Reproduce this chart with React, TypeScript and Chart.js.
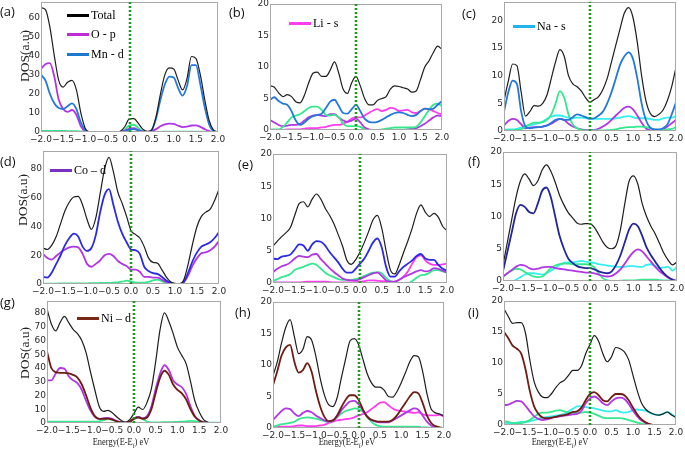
import React, { useEffect, useRef } from 'react';
import { Chart, registerables } from 'chart.js';

Chart.register(...registerables);

// ---------- DATA ----------
const ENERGY = [
  -2.0, -1.9, -1.8, -1.7, -1.6, -1.5, -1.4, -1.3, -1.2, -1.1,
  -1.0, -0.9, -0.8, -0.7, -0.6, -0.5, -0.4, -0.3, -0.2, -0.1,
  0.0, 0.1, 0.2, 0.3, 0.4, 0.5, 0.6, 0.7, 0.8, 0.9,
  1.0, 1.1, 1.2, 1.3, 1.4, 1.5, 1.6, 1.7, 1.8, 1.9, 2.0,
];
const X_TICKS = [-2.0, -1.5, -1.0, -0.5, 0.0, 0.5, 1.0, 1.5, 2.0];
const FERMI_LEVEL = 0.0;

// (a)
const aTotal = [65, 64, 55, 40, 27, 23.5, 26, 27, 22, 10, 2, 0, 0, 0, 0, 0, 0, 0, 0.5, 3, 7, 7, 4.5, 1.5, 0.3, 1, 8, 20, 30, 33.5, 33, 27, 22, 28, 39.5, 38.5, 30, 17, 6, 1, 0];
const aOp = [33, 35.5, 36, 29, 17, 12, 10.5, 11.5, 9, 3, 0.5, 0, 0, 0, 0, 0, 0, 0, 0.1, 0.8, 1.8, 2, 1, 0.3, 0.1, 0.5, 1.5, 3, 4, 4.4, 4.2, 3.3, 2.6, 2.8, 3.4, 3.5, 2.7, 1.5, 0.5, 0.1, 0];
const aMn = [30, 27, 20, 15, 12.5, 12, 13.5, 15, 12, 5, 1, 0, 0, 0, 0, 0, 0, 0, 0, 0.5, 1.3, 1.5, 0.8, 0.2, 0, 1, 7, 17, 25, 29, 28.5, 23, 19, 24, 35, 35, 25, 13, 4, 0.5, 0];
const aOther = [0.6, 0.6, 0.6, 0.6, 0.6, 0.6, 0.5, 0.5, 0.4, 0.3, 0.2, 0, 0, 0, 0, 0, 0, 0, 0.1, 1.5, 3.5, 3.8, 2, 0.5, 0, 0, 0.1, 0.1, 0.2, 0.2, 0.2, 0.2, 0.2, 0.2, 0.2, 0.2, 0.2, 0.1, 0.1, 0, 0];

// (b)
const bTotal = [7, 6.8, 5.9, 5.3, 5.6, 5.3, 4.5, 4.3, 5.5, 7.5, 9, 9.2, 8.5, 8.5, 9.5, 10.8, 9, 6.5, 5.8, 7.5, 8.5, 7, 5, 4, 4, 4.7, 5, 5.3, 6.5, 7, 6.9, 6.7, 6.5, 6, 6.2, 8, 10, 11, 12.3, 13.3, 12.8];
const bMn = [4.8, 5.2, 4.6, 4.2, 4, 3, 1.5, 0.8, 1.2, 1.8, 2.2, 2.4, 2.6, 3.5, 4.5, 4.8, 3.8, 2.7, 2.6, 3.3, 4, 3, 1.8, 1.3, 1.2, 1.3, 1.6, 2, 2.4, 2.7, 2.8, 2.7, 2.4, 2.2, 2.4, 3, 3.4, 3.3, 3.4, 4, 4.6];
const bOther = [0.1, 0.1, 0.1, 0.5, 1.2, 2, 2.3, 2.5, 3, 3.5, 3.7, 3.7, 3.2, 2.4, 2.3, 2.4, 2, 1, 0.6, 0.6, 0.6, 0.5, 0.1, 0, 0, 0, 0.1, 0.2, 0.3, 0.4, 0.4, 0.4, 0.4, 0.4, 0.5, 1.2, 2.2, 3.2, 4, 4.2, 3.7];
const bOp = [1.6, 1.2, 0.8, 0.6, 0.7, 0.8, 0.8, 1, 1.5, 2, 2.3, 2.4, 2.3, 2.2, 2.5, 2.5, 2, 1.5, 1.3, 1.5, 1.8, 1.2, 0.4, 0.1, 0, 0, 0, 0, 0, 0, 0, 0, 0.1, 0.2, 0.3, 0.6, 1, 1.5, 2, 2.3, 2.2];
const bLi = [0, 0, 0, 0, 0.1, 0.1, 0.1, 0.1, 0.2, 0.3, 0.3, 0.3, 0.4, 0.5, 0.7, 0.8, 0.8, 1, 1.3, 1.8, 2, 2, 2.3, 2.7, 3.1, 3.3, 3, 3.2, 3.5, 3.4, 3, 3.1, 3.2, 2.8, 2.7, 3, 3.4, 3.3, 3, 2.7, 2.5];

// (c)
const cTotal = [5.5, 9, 12.1, 11.8, 7, 2.7, 3.5, 4.6, 4.5, 5, 6.5, 9.5, 12.5, 14.7, 13.5, 10, 8.5, 8, 7.2, 6, 5.2, 5.7, 6.2, 7.5, 9.5, 12.5, 15.5, 18.5, 21.3, 22.3, 20.5, 16, 10, 5.5, 3.2, 2.6, 3, 3.8, 5.5, 8, 11.5];
const cMn = [3.5, 7, 9.1, 8.5, 3.5, 0.8, 0.5, 0.6, 0.7, 0.8, 1, 1.5, 2, 2.2, 2, 2, 2.5, 3, 2.8, 2.5, 2.2, 2.3, 2.8, 3.5, 5, 7, 9.5, 12, 13.5, 14.2, 13, 9.5, 5, 2, 0.6, 0.3, 0.3, 0.5, 1.2, 3, 5.2];
const cOther = [0.1, 0.1, 0.1, 0.2, 0.3, 0.8, 1.2, 1.5, 1.5, 1.6, 2, 3, 5, 7.2, 6, 3, 1.2, 0.5, 0.2, 0.1, 0.1, 0.1, 0.1, 0.1, 0.15, 0.2, 0.3, 0.5, 0.6, 0.7, 0.7, 0.8, 0.8, 0.7, 0.5, 0.3, 0.2, 0.2, 0.3, 0.4, 0.7];
const cOp = [1, 1.8, 2.2, 2, 1.2, 0.5, 0.6, 0.7, 0.7, 0.8, 1, 1.3, 1.8, 2.2, 2, 1.3, 0.8, 0.5, 0.3, 0.2, 0.2, 0.2, 0.4, 0.8, 1.3, 2, 2.8, 3.5, 4.2, 4.4, 3.9, 2.8, 1.5, 0.5, 0.1, 0, 0.1, 0.3, 0.8, 1.4, 2];
const cNa = [0.2, 0.3, 0.3, 0.4, 0.6, 0.9, 1, 1.2, 1.4, 1.7, 2.2, 2.6, 2.8, 2.8, 2.6, 2.4, 2.3, 2.4, 2.4, 2.3, 2.3, 2.2, 2.2, 2.2, 2.2, 2.2, 2.3, 2.4, 2.6, 2.7, 2.5, 2.3, 2.3, 2.3, 2.2, 2, 2, 2.3, 2.4, 2.4, 2.7];

// (d)
const dTotal = [25, 24, 27, 33, 42, 51, 57, 60.5, 61, 55, 45, 38, 46, 63, 80, 88, 78, 64, 56, 47, 37, 34.5, 32, 26, 18, 15, 14.5, 10, 5, 1.5, 0.5, 0, 3, 14, 28, 40, 47, 50, 52, 58, 66];
const dCo = [5, 4.5, 8, 14, 20, 27, 32, 35, 33, 26, 23, 25, 34, 50, 62, 66, 55, 43.5, 35, 29, 24, 23.5, 21, 12, 9, 7.5, 7, 5, 2.5, 0.8, 0, 0, 1.5, 8, 16, 22, 26, 27.5, 29, 32, 36];
const dOp = [21, 18, 17, 19.5, 22, 24, 25.5, 26, 25.5, 21, 14, 12, 14, 16.5, 20, 21, 19.5, 16, 14, 12.5, 10, 10, 8.5, 5, 5, 4.5, 4.5, 3, 1.5, 0.5, 0, 0, 1.2, 6, 13, 18, 21.5, 22, 23.5, 26, 30];
const dOther = [0.3, 0.3, 0.3, 0.3, 0.4, 0.4, 0.5, 0.5, 0.5, 0.5, 0.5, 0.6, 0.6, 0.7, 0.8, 0.8, 1, 1.2, 1.6, 2.3, 1.8, 1, 1, 1, 1.5, 2.5, 3, 2, 0.8, 0.3, 0.1, 0, 0, 0, 0, 0, 0, 0, 0, 0, 0];

// (e)
const eTotal = [5.7, 6.5, 7.2, 7.8, 8.6, 10.5, 12.3, 12.6, 11.8, 13, 13.8, 13, 11.6, 10.5, 9.2, 7.5, 5.7, 3.5, 2.9, 3.6, 4.8, 6.3, 8, 9.8, 10.5, 8.5, 5, 2, 1.4, 2.8, 4.7, 6.5, 8.5, 10.8, 12.1, 11, 10.3, 10.8, 10.2, 8.8, 8.1];
const eCo = [3.8, 3.7, 4.1, 4.2, 4.4, 5.2, 6, 5.8, 5, 6, 6.5, 6.4, 5.8, 4.8, 4, 3.2, 2.2, 1.6, 1.6, 2.2, 3, 3.8, 5, 6.3, 6.9, 5.5, 2.5, 1, 1, 1.8, 2.5, 3, 3.5, 4.2, 4.5, 3.8, 3.6, 3.6, 2.8, 2.2, 1.9];
const eOp = [1.7, 2.2, 2.6, 2.8, 3.2, 3.8, 4.2, 4.1, 4, 4.4, 4.5, 3.7, 3, 2.3, 1.7, 1.2, 0.7, 0.5, 0.4, 0.4, 0.6, 0.9, 1.2, 1.5, 1.6, 1.1, 0.4, 0.2, 0.2, 0.5, 0.9, 1.2, 1.5, 1.8, 2, 1.8, 1.9, 2.3, 2.2, 1.9, 1.6];
const eOther = [0.3, 0.6, 0.9, 1.1, 1.4, 2, 2.3, 2.5, 2.8, 3, 2.8, 2.2, 1.6, 1.2, 0.9, 0.6, 0.5, 0.5, 0.5, 0.6, 0.8, 1.1, 1.4, 1.6, 1.7, 1.5, 0.8, 0.3, 0.1, 0, 0, 0, 0.3, 0.8, 1.2, 1.3, 1.6, 2, 2, 1.8, 1.6];
const eLi = [0.1, 0.1, 0.1, 0.1, 0.1, 0.1, 0.1, 0.15, 0.2, 0.2, 0.2, 0.2, 0.2, 0.15, 0.1, 0.1, 0.1, 0.1, 0.1, 0.15, 0.2, 0.3, 0.4, 0.4, 0.35, 0.3, 0.2, 0.1, 0.2, 0.5, 1, 1.8, 3, 4, 4.3, 3.5, 3, 2.8, 2.8, 2.9, 3];

// (f)
const fTotal = [2.5, 6, 9.5, 13, 15.5, 16.6, 15.8, 14.8, 15.5, 17.2, 18, 17, 15.3, 13.3, 11.8, 10.6, 9.8, 9, 8.8, 8.9, 8.9, 8.3, 7.2, 6, 5.2, 5, 5.5, 8, 12, 15.5, 16.3, 15, 12, 10, 8.5, 7.3, 5.8, 4.3, 3.2, 2.5, 3];
const fCo = [1.5, 4.5, 7.5, 10.5, 11.8, 11.5, 10.7, 10.5, 12, 14, 14.5, 13, 10, 7, 5, 3.5, 2.8, 2.3, 2.1, 2, 2, 1.8, 1.5, 1.3, 1.2, 1.5, 2.5, 4, 6, 8, 8.9, 8.5, 7, 5.2, 4, 3, 2, 1.2, 0.6, 0.2, 0];
const fOp = [0.7, 1.2, 1.7, 2.2, 2.5, 2.4, 2, 1.8, 1.9, 2.1, 2.2, 2.2, 2, 1.9, 1.8, 1.7, 1.6, 1.5, 1.4, 1.3, 1.3, 1.2, 1, 0.8, 0.7, 0.8, 1.2, 1.8, 2.7, 3.7, 4.5, 4.9, 4.6, 3.8, 3, 2.2, 1.5, 1, 0.5, 0.2, 0];
const fOther = [0.6, 1.2, 1.6, 1.9, 1.8, 1.4, 1, 0.7, 0.6, 0.7, 1.3, 2, 2.4, 2.6, 2.7, 2.7, 2.6, 2.6, 2.6, 2.6, 2.5, 2.1, 1.2, 0.4, 0.1, 0, 0, 0.05, 0.1, 0.1, 0.1, 0.15, 0.2, 0.2, 0.2, 0.2, 0.15, 0.1, 0.1, 0.05, 0];
const fNa = [0, 0, 0, 0.2, 0.6, 1, 1.2, 1.2, 1.1, 1, 1.2, 1.6, 2, 2.5, 2.8, 2.9, 2.9, 3, 3.1, 3, 2.9, 2.8, 2.6, 2.5, 2.4, 2.3, 2.2, 2.2, 2.2, 2.3, 2.3, 2.2, 2.2, 2.5, 2.6, 2.3, 2, 2.1, 2.2, 1.6, 2.3];

// (g)
const gTotal = [83, 72, 67, 73, 77.5, 73, 68, 65, 60, 51, 37, 24, 12, 8.5, 9.2, 7.5, 4.5, 2, 0.5, 2.5, 7, 11.5, 9.8, 15, 25, 45, 68, 80, 74, 65, 55, 49, 43, 30, 16, 8, 2.5, 0.5, 0, 0, 0];
const gNi = [52, 40, 37, 36.5, 36.5, 36, 35, 33, 28, 20, 11, 5, 3, 3, 3.2, 2.5, 1.2, 0.5, 0.2, 1, 3, 4, 3, 4, 10, 22, 33, 38, 35, 28, 24, 21.5, 17, 10, 4.5, 1.8, 0.5, 0, 0, 0, 0];
const gOp = [31, 31, 36, 40, 39.5, 34, 31, 29, 24, 16, 9, 4.5, 3, 3.5, 3.7, 3, 1.5, 0.5, 0.2, 1, 3.5, 4.5, 3.5, 5, 12, 25, 36, 42, 38.5, 31, 28, 26, 21, 12, 5, 2, 0.6, 0, 0, 0, 0];
const gOther = [1, 1, 1, 1, 1, 1, 1, 1, 1, 1, 1, 1, 1.2, 2, 3, 2.2, 1, 0.5, 0.3, 0.5, 3, 4.5, 3, 1, 0.5, 0.5, 0.5, 0.6, 0.6, 0.7, 0.8, 1, 1.2, 1.5, 1.3, 0.7, 0.4, 0.3, 0.2, 0.2, 0.2];

// (h)
const hTotal = [8.3, 10.5, 13.5, 16, 17.2, 14.5, 11.8, 12.5, 14.5, 14, 11.5, 8, 5.3, 3.7, 3.4, 4.8, 8, 11, 13.8, 14.2, 13.3, 11, 8.7, 7.2, 6.5, 6.5, 6, 5, 4.9, 5.8, 7.2, 8.8, 10.5, 11.5, 11.3, 9, 5.5, 3, 2.4, 2.2, 1.9];
const hNi = [6.8, 9, 11.5, 12.8, 13.2, 10.5, 8.8, 9.2, 10.3, 9, 6, 3.5, 1.8, 1.1, 1.2, 2, 3.3, 4.5, 5.2, 5.2, 4.5, 3, 1.8, 1.3, 1.1, 1, 1, 1, 1.3, 2, 3, 4, 5, 5.7, 5.5, 4, 2, 0.8, 0.3, 0.1, 0];
const hOp = [1.3, 2, 2.7, 3.1, 3, 2.3, 1.9, 2.4, 2.7, 2.5, 2, 1.6, 1.2, 1, 1.2, 1.8, 2.8, 3.6, 4.2, 4.3, 3.8, 2.8, 1.9, 1.3, 1, 0.9, 0.9, 0.9, 1.2, 1.6, 2, 2.4, 2.8, 3.1, 2.9, 2, 1, 0.4, 0.1, 0, 0];
const hOther = [0.2, 0.4, 0.6, 0.7, 0.8, 1, 1.4, 1.6, 1.7, 1.6, 1.5, 1.3, 1.1, 1, 1.2, 1.7, 2.3, 2.7, 2.9, 3.1, 3, 2.6, 1.8, 1, 0.5, 0.3, 0.2, 0.2, 0.2, 0.2, 0.2, 0.2, 0.2, 0.2, 0.2, 0.1, 0.1, 0.05, 0, 0, 0];
const hLi = [0.1, 0.15, 0.2, 0.2, 0.2, 0.3, 0.4, 0.4, 0.3, 0.3, 0.3, 0.4, 0.5, 0.8, 1, 1.2, 1.3, 1.4, 1.5, 1.7, 2, 2.2, 2.5, 3, 3.5, 4, 4.1, 3.6, 3.1, 2.8, 2.7, 2.6, 2.5, 2.4, 2.5, 2.2, 2, 2, 2, 2.1, 1.8];

// (i)
const iTotal = [18.7, 17.5, 16.4, 16.5, 16.5, 14.8, 10.5, 7, 5.3, 4.5, 4.4, 5, 6, 6.8, 7.2, 8, 8.8, 8.8, 9.5, 11.5, 13, 14.4, 13.5, 11.5, 10.2, 11, 12.5, 12.3, 11.8, 10.5, 8, 5.5, 3.5, 2.5, 2, 1.7, 1.6, 1.8, 2.1, 1.6, 1.2];
const iNi = [15, 14, 12.8, 12.3, 11.5, 9, 5.5, 3, 1.8, 1.2, 1.1, 1.2, 1.3, 1.5, 1.6, 1.8, 2.1, 2.2, 2.8, 4, 5, 5.3, 4.8, 4, 3.8, 4.5, 5, 5, 4.8, 4, 2.8, 1.7, 0.9, 0.4, 0.1, 0, 0, 0, 0, 0, 0];
const iOp = [3.2, 3.3, 3.6, 3.9, 3.8, 3.1, 2.2, 1.4, 1, 0.8, 0.9, 1.1, 1.3, 1.4, 1.5, 1.6, 1.7, 1.8, 2.3, 3.5, 4.3, 4.6, 4.2, 3.5, 3.2, 3.8, 4.3, 4.4, 4.2, 3.4, 2.3, 1.4, 0.7, 0.3, 0.1, 0, 0, 0, 0, 0, 0];
const iOther = [0.6, 0.5, 0.3, 0.3, 0.3, 0.5, 0.8, 1.3, 1.8, 2, 2, 2.1, 2.3, 2.4, 2.2, 2, 1.9, 1.9, 2, 2.1, 2, 1.8, 1.5, 1.2, 1.1, 1.1, 1.1, 1.1, 1, 0.8, 0.6, 0.4, 0.2, 0.1, 0, 0, 0, 0, 0, 0, 0];
const iNa = [0.3, 0.3, 0.3, 0.4, 0.5, 0.5, 0.6, 0.8, 1, 1.2, 1.3, 1.4, 1.5, 1.6, 1.8, 2.2, 2.6, 3, 3, 2.9, 2.8, 2.7, 2.5, 2.3, 2.2, 2.2, 2.4, 2.1, 2, 2.1, 2.4, 2.5, 2.4, 2.3, 1.9, 1.7, 1.6, 1.8, 2.1, 1.7, 1.3];

// ---------- STYLE ----------
const C = {
  black: '#1e1e1e',
  mn: '#2378dc',
  co: '#2a2ae6',
  navy: '#24249c',
  purple: '#b235e6',
  magenta: '#ff3cf0',
  green: '#34e88e',
  cyan: '#34eef2',
  brown: '#6e1c12',
  fermi: '#1f9a1f',
  frame: '#a8a8a8',
  tick: '#2a2a2a',
};

type Series = { values: number[]; color: string; width: number };
type PanelSpec = {
  id: string;
  left: number; top: number; right: number; bottom: number;
  yMax: number; yStep: number;
  series: Series[];
};

const S = (values: number[], color: string, width = 1.8): Series => ({ values, color, width });

const PANELS: PanelSpec[] = [
  { id: 'a', left: 41, top: 2, right: 218, bottom: 132, yMax: 68, yStep: 10,
    series: [S(aTotal, C.black, 1.2), S(aMn, C.mn), S(aOp, C.purple), S(aOther, C.green)] },
  { id: 'b', left: 270, top: 4, right: 442, bottom: 130, yMax: 20, yStep: 5,
    series: [S(bTotal, C.black, 1.2), S(bMn, C.mn), S(bOther, C.green), S(bOp, C.purple), S(bLi, C.magenta)] },
  { id: 'c', left: 504, top: 2, right: 676, bottom: 131, yMax: 23.3, yStep: 5,
    series: [S(cTotal, C.black, 1.2), S(cMn, C.mn), S(cOther, C.green), S(cOp, C.purple), S(cNa, C.cyan)] },
  { id: 'd', left: 43, top: 151, right: 219, bottom: 284, yMax: 92.5, yStep: 20,
    series: [S(dTotal, C.black, 1.2), S(dCo, C.co), S(dOp, C.purple), S(dOther, C.green)] },
  { id: 'e', left: 273, top: 154, right: 447, bottom: 283, yMax: 20, yStep: 5,
    series: [S(eTotal, C.black, 1.2), S(eCo, C.co), S(eOp, C.purple), S(eOther, C.green), S(eLi, C.magenta)] },
  { id: 'f', left: 503, top: 152, right: 677, bottom: 281, yMax: 20, yStep: 5,
    series: [S(fTotal, C.black, 1.2), S(fCo, C.navy), S(fOp, C.purple), S(fOther, C.green), S(fNa, C.cyan)] },
  { id: 'g', left: 47, top: 301, right: 221, bottom: 423, yMax: 88.7, yStep: 10,
    series: [S(gTotal, C.black, 1.2), S(gNi, C.brown), S(gOp, C.purple), S(gOther, C.green)] },
  { id: 'h', left: 273, top: 302, right: 444, bottom: 428, yMax: 20, yStep: 5,
    series: [S(hTotal, C.black, 1.2), S(hNi, C.brown), S(hOp, C.purple), S(hOther, C.green), S(hLi, C.magenta)] },
  { id: 'i', left: 504, top: 301, right: 676, bottom: 425, yMax: 20, yStep: 5,
    series: [S(iTotal, C.black, 1.2), S(iNi, C.brown), S(iOp, C.purple), S(iOther, C.green), S(iNa, C.cyan)] },
];

const PAD_L = 34, PAD_T = 8, PAD_R = 14, PAD_B = 16;

const fmtX = (v: number) => {
  const s = Math.abs(v).toFixed(1);
  return v < -1e-9 ? '\u2212' + s : s;
};

const framePlugin = {
  id: 'frameAndFermi',
  afterDatasetsDraw(chart: any) {
    const { ctx, chartArea: a, scales } = chart;
    ctx.save();
    ctx.strokeStyle = C.frame;
    ctx.lineWidth = 1;
    ctx.setLineDash([]);
    ctx.strokeRect(Math.round(a.left) + 0.5, Math.round(a.top) + 0.5, Math.round(a.right - a.left) - 1, Math.round(a.bottom - a.top) - 1);
    const x = Math.round(scales.x.getPixelForValue(FERMI_LEVEL));
    ctx.strokeStyle = C.fermi;
    ctx.lineWidth = 2.6;
    ctx.setLineDash([2, 2]);
    ctx.beginPath();
    ctx.moveTo(x, a.bottom);
    ctx.lineTo(x, a.top);
    ctx.stroke();
    ctx.restore();
  },
};

function Panel({ spec }: { spec: PanelSpec }) {
  const ref = useRef<HTMLCanvasElement>(null);
  const w = spec.right - spec.left + PAD_L + PAD_R;
  const h = spec.bottom - spec.top + PAD_T + PAD_B;
  useEffect(() => {
    if (!ref.current) return;
    const chart = new Chart(ref.current, {
      type: 'line',
      data: {
        datasets: spec.series.map((s) => ({
          data: ENERGY.map((x, i) => ({ x, y: s.values[i] })),
          borderColor: s.color,
          borderWidth: s.width,
          pointRadius: 0,
          cubicInterpolationMode: 'monotone' as const,
          fill: false,
        })),
      },
      options: {
        responsive: false,
        animation: false,
        events: [],
        layout: { padding: { left: 0, top: PAD_T, right: PAD_R, bottom: 0 } },
        plugins: { legend: { display: false }, tooltip: { enabled: false } },
        scales: {
          x: {
            type: 'linear',
            min: -2,
            max: 2,
            grid: { display: false, drawTicks: false },
            border: { display: false },
            afterBuildTicks: (s: any) => { s.ticks = X_TICKS.map((v) => ({ value: v })); },
            ticks: {
              autoSkip: false,
              maxRotation: 0,
              minRotation: 0,
              padding: 2,
              color: C.tick,
              font: { family: 'DejaVu Sans', size: 9 },
              callback: (v: any) => fmtX(Number(v)),
            },
            afterFit: (s: any) => { s.height = PAD_B; },
          },
          y: {
            type: 'linear',
            min: 0,
            max: spec.yMax,
            grid: { display: false, drawTicks: false },
            border: { display: false },
            ticks: {
              stepSize: spec.yStep,
              includeBounds: false,
              padding: 1,
              color: C.tick,
              font: { family: 'DejaVu Sans', size: 9 },
              callback: (v: any) => String(Math.round(Number(v))),
            },
            afterFit: (s: any) => { s.width = PAD_L; },
          },
        },
      },
      plugins: [framePlugin],
    } as any);
    return () => chart.destroy();
  }, [spec]);
  return (
    <canvas
      ref={ref}
      width={w}
      height={h}
      style={{ position: 'absolute', left: spec.left - PAD_L, top: spec.top - PAD_T, width: w, height: h }}
    />
  );
}

// ---------- TEXT OVERLAYS ----------
const PANEL_LABELS = [
  { t: '(a)', x: 0, y: 11 }, { t: '(b)', x: 229, y: 12 }, { t: '(c)', x: 462, y: 13 },
  { t: '(d)', x: 0, y: 161 }, { t: '(e)', x: 238, y: 164 }, { t: '(f)', x: 468, y: 161 },
  { t: '(g)', x: 0, y: 302 }, { t: '(h)', x: 235, y: 312 }, { t: '(i)', x: 468, y: 312 },
];

const LEGENDS = [
  { t: 'Total', color: '#000000', x: 67, y: 15 },
  { t: 'O - p', color: '#c02ad8', x: 67, y: 34 },
  { t: 'Mn - d', color: '#1f78d0', x: 67, y: 54 },
  { t: 'Li - s', color: '#ff3cf0', x: 289, y: 23 },
  { t: 'Na - s', color: '#22b4f0', x: 513, y: 26 },
  { t: 'Co \u2013 d', color: '#7a30c0', x: 50, y: 170 },
  { t: 'Ni \u2013 d', color: '#7a2a14', x: 77, y: 318 },
];

const Y_TITLES = [
  { x: 25, y: 56 }, { x: 23, y: 200 }, { x: 25, y: 353 },
];
const X_TITLES = [
  { x: 121, y: 442 }, { x: 347, y: 442 }, { x: 560, y: 442 },
];

const serif = '"Liberation Serif", "DejaVu Serif", serif';

export default function App() {
  return (
    <div style={{ position: 'absolute', left: 0, top: 0, width: 685, height: 450, background: '#ffffff', overflow: 'hidden' }}>
      {PANELS.map((p) => <Panel key={p.id} spec={p} />)}
      {PANEL_LABELS.map((l) => (
        <div key={l.t} style={{ position: 'absolute', left: l.x, top: l.y - 9, fontFamily: '"Open Sans", sans-serif', fontSize: 13, lineHeight: '18px', color: '#111' }}>{l.t}</div>
      ))}
      {LEGENDS.map((l) => (
        <div key={l.t} style={{ position: 'absolute', left: l.x, top: l.y - 8, height: 16, display: 'flex', alignItems: 'center', whiteSpace: 'nowrap' }}>
          <div style={{ width: 22, height: 3, background: l.color, marginRight: 2 }} />
          <span style={{ fontFamily: serif, fontSize: 12, color: '#000', lineHeight: '16px' }}>{l.t}</span>
        </div>
      ))}
      {Y_TITLES.map((t, i) => (
        <div key={'y' + i} style={{ position: 'absolute', left: t.x, top: t.y, transform: 'translate(-50%, -50%) rotate(-90deg)', fontFamily: serif, fontSize: 13.5, lineHeight: '14px', whiteSpace: 'nowrap', color: '#222' }}>DOS(a.u)</div>
      ))}
      {X_TITLES.map((t, i) => (
        <div key={'x' + i} style={{ position: 'absolute', left: t.x, top: t.y, transform: 'translate(-50%, -50%) scaleX(0.8)', fontFamily: serif, fontSize: 10.5, lineHeight: '12px', whiteSpace: 'nowrap', color: '#222' }}>
          Energy(E-E<sub style={{ fontSize: 7, lineHeight: 0 }}>f</sub>) eV
        </div>
      ))}
    </div>
  );
}
